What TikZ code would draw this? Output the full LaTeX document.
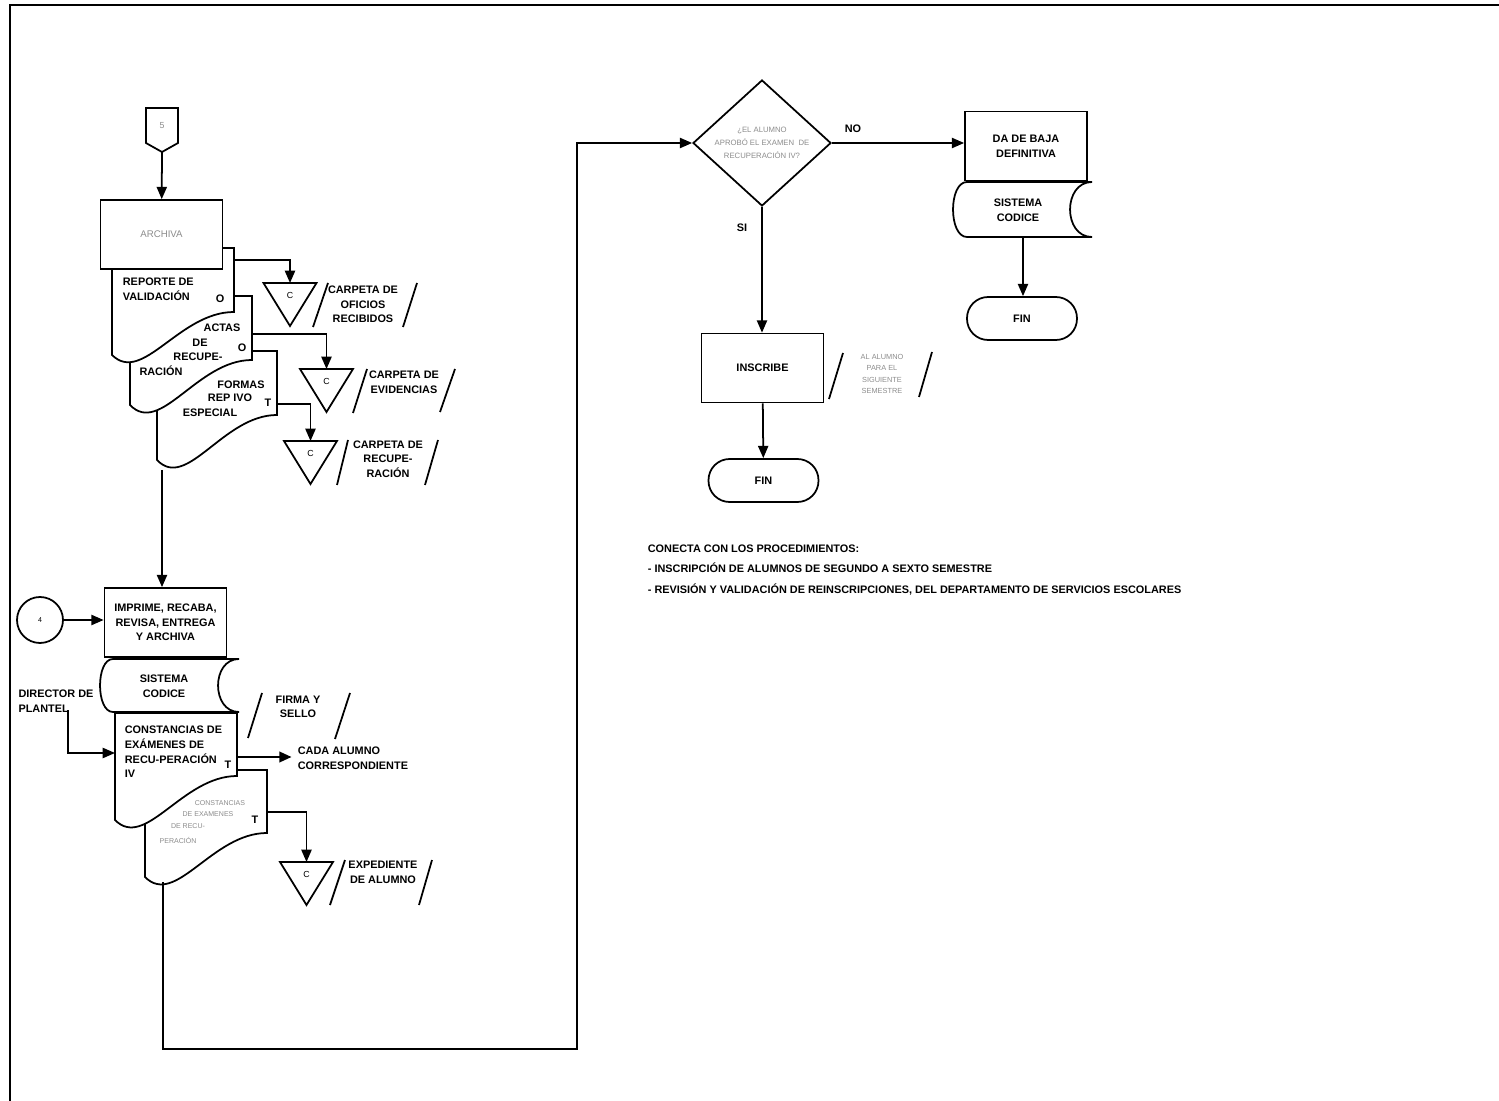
\documentclass[tikz,border=0pt]{standalone}
\usepackage{fontspec}
\setmainfont{Liberation Sans}
\usetikzlibrary{arrows.meta,shapes.geometric}

\definecolor{gris}{gray}{0.55}
\newcommand\negrita{\fontsize{6.2}{8.3}\selectfont\bfseries}
\newcommand\grisito{\fontsize{4}{6.6}\selectfont}
% documento: x izq, arriba, x der, pie der, pie izq
\newcommand\documento[5]{%
  \draw[fill=white] (#1,#5) -- (#1,#2) -- (#3,#2) -- (#3,#4)
    .. controls ({#1+0.55*(#3-#1)},#4) and ({#1+0.25*(#3-#1)},{#5+0.7*(#5-#4)}) .. (#1,#5) -- cycle;}
% almacenamiento: x izq, arriba, x der, abajo, radio izq, radio der
\newcommand\almacen[6]{%
  \draw[fill=white] ({#1+#5},#2) -- (#3,#2)
    .. controls ({#3-1.33*#6},#2) and ({#3-1.33*#6},#4) .. (#3,#4)
    -- ({#1+#5},#4)
    .. controls ({#1+#5-1.33*#5},#4) and ({#1+#5-1.33*#5},#2) .. ({#1+#5},#2) -- cycle;}

\begin{document}
\begin{tikzpicture}[x=0.02cm, y=-0.02cm, line width=1pt,
    flecha/.style={-{Triangle[length=7pt,width=5.8pt]}},
    proceso/.style={draw, fill=white, minimum width=2.44cm, minimum height=1.38cm,
      inner sep=1pt, align=center, font=\negrita},
    fin/.style={draw, fill=white, rounded corners=12pt, minimum width=2.2cm,
      minimum height=0.86cm, font=\negrita},
    texto/.style={inner sep=0pt, font=\negrita, align=left},
    tenue/.style={inner sep=0pt, font=\grisito, text=gris, align=center}]

    \useasboundingbox (0,0) rectangle (1499,1101);
    \draw[line width=0.8pt] (10,1101) -- (10,5) -- (1499,5);

    % conector 5 y archivo de documentos
    \draw[fill=white] (146,108) -- (178,108) -- (178,143) -- (162,152) -- (146,143) -- cycle;
    \node[tenue, font=\fontsize{5}{6}\selectfont] (con5) at (162,126) {5};
    \coordinate (con5s) at (162,152);

    \documento{157}{351}{277}{415}{460}
    \documento{130}{296}{252}{360}{405}
    \documento{112}{248}{234}{312}{355}
    \node[proceso, font=\fontsize{5.5}{7}\selectfont, text=gris] (archiva) at (161.5,234.5) {ARCHIVA};
    \draw[flecha] (con5s) -- (archiva);

    \node[texto, anchor=west] (reporte) at (122,289.5) {REPORTE DE\\VALIDACIÓN};
    \node[texto] (o1) at (220,299) {O};
    \node[texto] (actas1) at (222,328) {ACTAS};
    \node[texto] (actas2) at (200,343) {DE};
    \node[texto] (actas3) at (198,357) {RECUPE-};
    \node[texto] (actas4) at (161,371) {RACIÓN};
    \node[texto] (o2) at (242,348) {O};
    \node[texto] (formas1) at (241,385) {FORMAS};
    \node[texto] (formas2) at (230,398) {REP IVO};
    \node[texto] (formas3) at (210,413) {ESPECIAL};
    \node[texto] (t1) at (268,403) {T};

    \coordinate (d1e) at (234,260);
    \coordinate (d2e) at (252,334);
    \coordinate (d3e) at (277,404);
    \coordinate (d3s) at (162,470);

    % archivos temporales
    \foreach \n/\x/\y in {c1/290/283, c2/326.5/369, c3/310.5/441, c4/306.5/862} {
      \coordinate (\n) at (\x,\y);
      \draw[fill=white] (\n) ++(-26.5,0) -- ++(53,0) -- ++(-26.5,43) -- cycle;
      \node[inner sep=0pt, font=\fontsize{5}{6}\selectfont] (\n-letra) at (\x,\y+12) {C};
    }
    \draw[flecha] (d1e) -| (c1);
    \draw[flecha] (d2e) -| (c2);
    \draw[flecha] (d3e) -| (c3);

    \node[texto, align=center] (oficios) at (363,304.5) {CARPETA DE\\OFICIOS\\RECIBIDOS};
    \draw (313,327) -- (328,283) (403,327) -- (417,283);
    \node[texto, align=center] (evidencias) at (404,382.5) {CARPETA DE\\EVIDENCIAS};
    \draw (353,413) -- (367,369) (440,412) -- (455,369);
    \node[texto, align=center] (recupera) at (388,459) {CARPETA DE\\RECUPE-\\RACIÓN};
    \draw (337,485) -- (348,440) (425,485) -- (438,440);

    % imprime y constancias
    \node[proceso] (imprime) at (165.5,622.5) {IMPRIME, RECABA,\\REVISA, ENTREGA\\Y ARCHIVA};
    \draw[flecha] (d3s) -- (d3s |- imprime.north);
    \node[draw, circle, minimum size=0.92cm, inner sep=0pt, font=\fontsize{4}{5}\selectfont] (con4) at (40,620) {4};
    \draw[flecha] (con4) -- (con4 -| imprime.west);

    \almacen{100}{659}{239}{712}{13}{21}
    \node[texto, align=center] (sis1) at (164,686.5) {SISTEMA\\CODICE};

    \documento{145}{770}{267}{833}{877}
    \documento{115}{713}{237}{776}{820}
    \node[texto, anchor=west] (const) at (124,752) {CONSTANCIAS DE\\EXÁMENES DE\\RECU-PERACIÓN\\IV};
    \node[texto] (t2) at (228,765) {T};
    \node[tenue] (g1) at (220,803) {CONSTANCIAS};
    \node[tenue] (g2) at (208,814) {DE EXAMENES};
    \node[tenue] (g3) at (188,826) {DE RECU-};
    \node[tenue] (g4) at (178,840) {PERACIÓN};
    \node[texto] (t3) at (255,820) {T};

    \node[texto] (director) at (56,701) {DIRECTOR DE\\PLANTEL};
    \coordinate (dirs) at (68,710);
    \coordinate (d4o) at (115,753);
    \draw[flecha] (dirs) |- (d4o);

    \node[texto, align=center] (firma) at (298,707) {FIRMA Y\\SELLO};
    \draw (248,738) -- (262,693) (335,739) -- (350,693);

    \node[texto, anchor=west] (cada) at (297,758) {CADA ALUMNO\\CORRESPONDIENTE};
    \coordinate (d4e) at (237,757);
    \draw[flecha, line width=1.6pt, shorten >=3pt] (d4e) -- (d4e -| cada.west);

    \coordinate (d5e) at (267,812);
    \draw[flecha] (d5e) -| (c4);
    \node[texto, align=center] (exped) at (383,872.5) {EXPEDIENTE\\DE ALUMNO};
    \draw (330,905) -- (345,860) (419,905) -- (432,860);

    % decision
    \node[draw, fill=white, diamond, aspect=1.1, minimum width=2.76cm, minimum height=2.52cm,
      inner sep=0pt, font=\fontsize{4.4}{7.4}\selectfont, text=gris, align=center]
      (decision) at (762,143) {¿EL ALUMNO\\APROBÓ EL EXAMEN\ \ DE\\RECUPERACIÓN IV?};
    \coordinate (d5s) at (163,882);
    \coordinate (codo) at (577,1049);
    \draw[flecha] (d5s) |- (codo) |- (decision.west);

    \node[texto] (no) at (853,129) {NO};
    \node[proceso] (baja) at (1026,146) {DA DE BAJA\\DEFINITIVA};
    \draw[flecha] (decision.east) -- (decision.east -| baja.west);
    \almacen{953}{182}{1092}{237}{14}{22}
    \node[texto, align=center] (sis2) at (1018,210) {SISTEMA\\CODICE};
    \coordinate (sis2s) at (1023,237);
    \node[fin] (fin2) at (1022,318.5) {FIN};
    \draw[flecha] (sis2s) -- (sis2s |- fin2.north);

    \node[texto] (si) at (742,228) {SI};
    \node[proceso] (inscribe) at (762.5,368) {INSCRIBE};
    \draw[flecha] (decision.south) -- (decision.south |- inscribe.north);
    \node[tenue, font=\fontsize{4.2}{6.4}\selectfont] (alumno) at (882,374) {AL ALUMNO\\PARA EL\\SIGUIENTE\\SEMESTRE};
    \draw (829,399) -- (843,353) (919,397) -- (932,352);
    \node[fin] (fin1) at (763.5,480.5) {FIN};
    \draw[flecha] (inscribe) -- (fin1);

    \node[texto, anchor=west, font=\fontsize{6.2}{11.9}\selectfont\bfseries] (nota) at (647,570)
      {CONECTA CON LOS PROCEDIMIENTOS:\\- INSCRIPCIÓN DE ALUMNOS DE SEGUNDO A SEXTO SEMESTRE\\- REVISIÓN Y VALIDACIÓN DE REINSCRIPCIONES, DEL DEPARTAMENTO DE SERVICIOS ESCOLARES};

\end{tikzpicture}
\end{document}
